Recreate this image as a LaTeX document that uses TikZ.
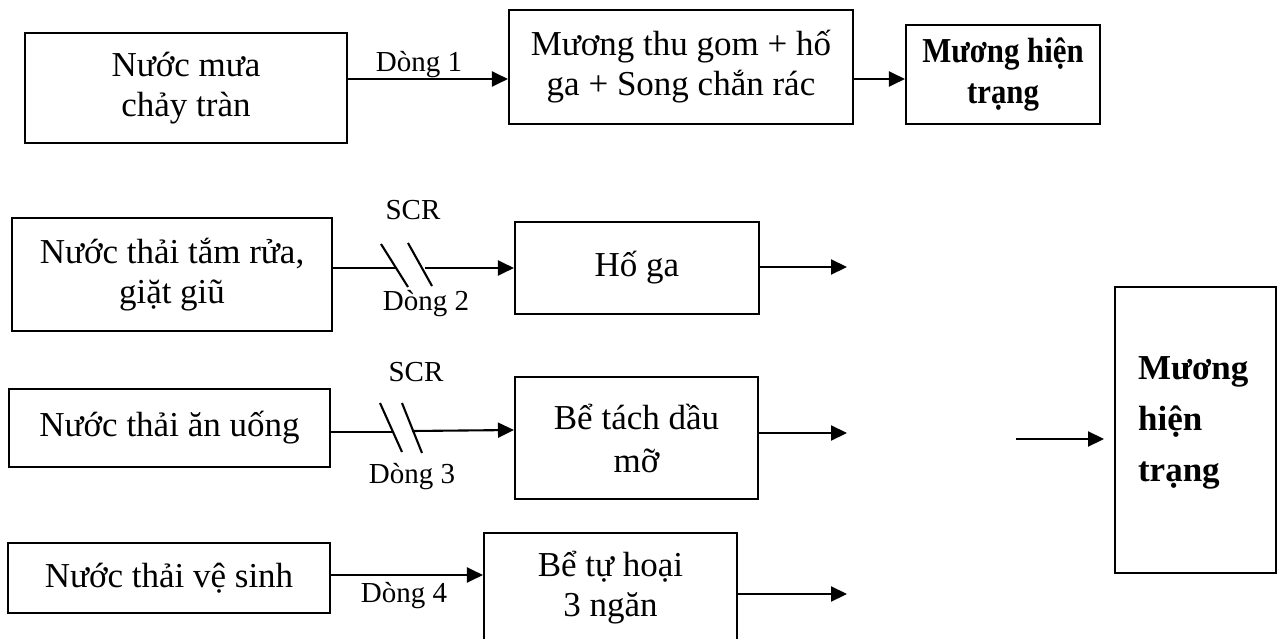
\documentclass[tikz,border=0pt]{standalone}
\usepackage{fontspec}
\setmainfont{Liberation Serif}
\usetikzlibrary{arrows.meta,calc}
\begin{document}
\begin{tikzpicture}[x=1pt,y=-1pt,line width=2.1pt,
  box/.style={draw, line width=2.1pt, inner sep=0pt, align=center, font=\fontsize{35}{40}\selectfont},
  lbl/.style={font=\fontsize{29}{33}\selectfont, inner sep=0pt, anchor=base},
  arr/.style={line width=2.1pt, -{Triangle[length=16pt,width=15pt]}}]
\useasboundingbox (0,0) rectangle (1279,639);
\clip (0,0) rectangle (1279,639);
% boxes
\node[box, minimum width=322pt, minimum height=110pt] (b1) at (186,88) {Nước mưa\\chảy tràn};
\node[box, minimum width=344pt, minimum height=114pt] (b2) at (681,67) {Mương thu gom + hố\\ga + Song chắn rác};
\node[box, minimum width=194pt, minimum height=99pt, font=\fontsize{35}{41}\selectfont\bfseries] (b3) at (1003,74.5) {\scalebox{0.88}[1]{Mương hiện}\\\scalebox{0.88}[1]{trạng}};
\node[box, minimum width=320pt, minimum height=113pt] (b4) at (172,274.5) {Nước thải tắm rửa,\\giặt giũ};
\node[box, minimum width=321pt, minimum height=78pt] (b5) at (169.5,428) {Nước thải ăn uống};
\node[box, minimum width=322pt, minimum height=70pt] (b6) at (169,578) {Nước thải vệ sinh};
\node[box, minimum width=244pt, minimum height=92pt] (b7) at (637,268) {Hố ga};
\node[box, minimum width=243pt, minimum height=122pt, font=\fontsize{35}{43}\selectfont] (b8) at (636.5,438) {Bể tách dầu\\mỡ};
\node[box, minimum width=253pt, minimum height=110pt] (b9) at (610.5,588) {Bể tự hoại\\3 ngăn};
\node[box, minimum width=161pt, minimum height=286pt] (b10) at (1195.5,430) {};
\node[font=\fontsize{35}{51}\selectfont\bfseries, align=left, anchor=north west, inner sep=0pt] (t10) at (1137,356) {Mương\\hiện\\trạng};
% row 1
\draw[arr] (b1.east |- 0,79) -- (b2.west |- 0,79);
\draw[arr] (b2.east |- 0,79) -- (b3.west |- 0,79);
\node[lbl] (l1) at (419,72) {Dòng 1};
% row 2
\coordinate (s1a) at (381,244); \coordinate (s1b) at (408,287);
\coordinate (s2a) at (408,243); \coordinate (s2b) at (432,286);
\coordinate (c1) at (396,268); \coordinate (c2) at (425,268);
\draw (s1a) -- (s1b);
\draw (s2a) -- (s2b);
\draw (b4.east |- c1) -- (c1);
\draw[arr] (c2) -- (b7.west |- c2);
\node[lbl] (scr1) at (413,219) {SCR};
\node[lbl] (l2) at (426,310) {Dòng 2};
% row 3
\coordinate (t1a) at (380,403); \coordinate (t1b) at (402,452);
\coordinate (t2a) at (402,403); \coordinate (t2b) at (422,453);
\coordinate (c3) at (393,432); \coordinate (c4) at (412,431);
\draw (t1a) -- (t1b);
\draw (t2a) -- (t2b);
\draw (b5.east |- c3) -- (c3);
\draw[arr] (c4) -- (b8.west |- 0,430);
\node[lbl] (scr2) at (416,381) {SCR};
\node[lbl] (l3) at (412,483) {Dòng 3};
% row 4
\draw[arr] (b6.east |- 0,575) -- (b9.west |- 0,575);
\node[lbl] (l4) at (404,602) {Dòng 4};
% outputs
\coordinate (o1) at (847,267);
\coordinate (o2) at (847,433);
\coordinate (o3) at (847,594);
\draw[arr] (b7.east |- o1) -- (o1);
\draw[arr] (b8.east |- o2) -- (o2);
\draw[arr] (b9.east |- o3) -- (o3);
\coordinate (i1) at (1016,439);
\coordinate (i2) at (1104,439);
\draw[arr] (i1) -- (i2);
\end{tikzpicture}
\end{document}
